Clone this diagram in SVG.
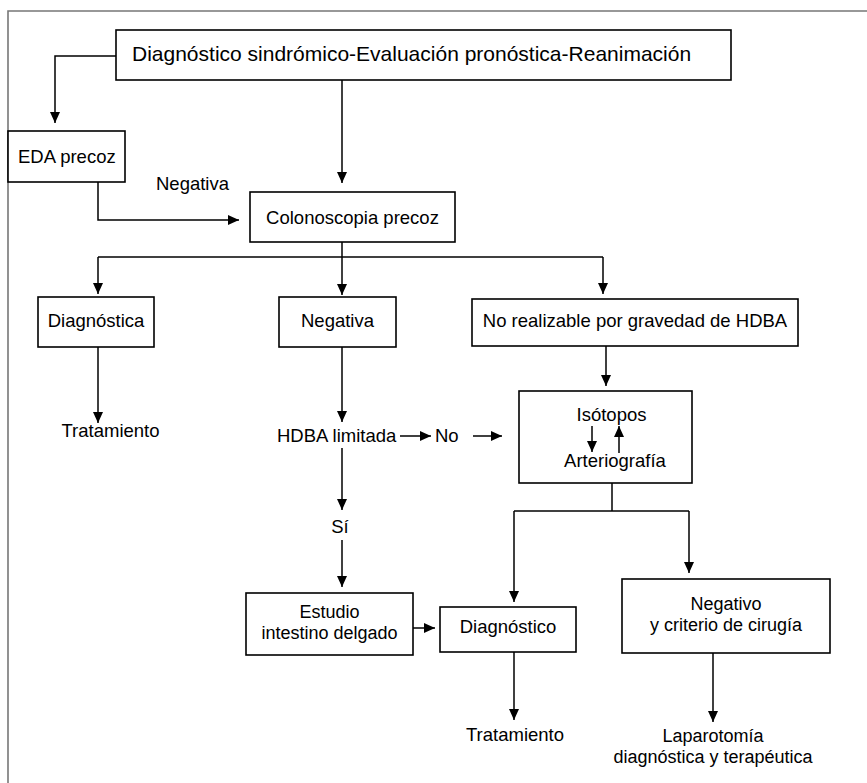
<svg xmlns="http://www.w3.org/2000/svg" width="867" height="783" viewBox="0 0 867 783">
<style>
  .box { fill: #ffffff; stroke: #000000; stroke-width: 1.6; }
  .ln { fill: none; stroke: #000000; stroke-width: 1.5; }
  .t { font-family: "Liberation Sans", Arial, Helvetica, sans-serif; font-size: 18.5px; fill: #000000; }
  .big { font-size: 21px; }
  .sm { font-size: 18px; }
  .c { text-anchor: middle; }
</style>
<defs>
  <marker id="ah" markerUnits="userSpaceOnUse" markerWidth="11" markerHeight="10" refX="11" refY="5" orient="auto">
    <path d="M0,0 L11,5 L0,10 z" fill="#000000"/>
  </marker>
</defs>
<rect x="0" y="0" width="867" height="783" fill="#ffffff"/>
<path d="M8,783 L8,11 L867,11" fill="none" stroke="#777777" stroke-width="1.6"/>

<g id="connectors">
  <path class="ln" d="M116,56 L55,56 L55,123" marker-end="url(#ah)"/>
  <path class="ln" d="M342,80 L342,183" marker-end="url(#ah)"/>
  <path class="ln" d="M98,182 L98,220 L239,220" marker-end="url(#ah)"/>
  <path class="ln" d="M342,242 L342,295" marker-end="url(#ah)"/>
  <path class="ln" d="M98,257 L603,257"/>
  <path class="ln" d="M98,257 L98,294" marker-end="url(#ah)"/>
  <path class="ln" d="M603,257 L603,294" marker-end="url(#ah)"/>
  <path class="ln" d="M98,347 L98,423" marker-end="url(#ah)"/>
  <path class="ln" d="M342,347 L342,422" marker-end="url(#ah)"/>
  <path class="ln" d="M606,346 L606,386" marker-end="url(#ah)"/>
  <path class="ln" d="M400,436 L431,436" marker-end="url(#ah)"/>
  <path class="ln" d="M473,436 L502,436" marker-end="url(#ah)"/>
  <path class="ln" d="M342,448 L342,510" marker-end="url(#ah)"/>
  <path class="ln" d="M342,540 L342,587" marker-end="url(#ah)"/>
  <path class="ln" d="M413,628 L435,628" marker-end="url(#ah)"/>
  <path class="ln" d="M612,483 L612,511"/>
  <path class="ln" d="M514,511 L689,511"/>
  <path class="ln" d="M514,511 L514,602" marker-end="url(#ah)"/>
  <path class="ln" d="M689,511 L689,573" marker-end="url(#ah)"/>
  <path class="ln" d="M514,652 L514,720" marker-end="url(#ah)"/>
  <path class="ln" d="M713,653 L713,722" marker-end="url(#ah)"/>
</g>

<g id="n-top">
  <rect class="box" x="116" y="30" width="615" height="50"/>
  <text class="t big" x="132" y="61">Diagnóstico sindrómico-Evaluación pronóstica-Reanimación</text>
</g>
<g id="n-eda">
  <rect class="box" x="8" y="131" width="117" height="51"/>
  <text class="t" x="18" y="163">EDA precoz</text>
</g>
<g id="l-negativa">
  <text class="t" x="156" y="190">Negativa</text>
</g>
<g id="n-colono">
  <rect class="box" x="250" y="192" width="205" height="50"/>
  <text class="t c" x="352.5" y="224">Colonoscopia precoz</text>
</g>
<g id="n-diagnostica">
  <rect class="box" x="38" y="297" width="116" height="50"/>
  <text class="t c" x="96" y="327">Diagnóstica</text>
</g>
<g id="n-negativa">
  <rect class="box" x="279" y="297" width="117" height="50"/>
  <text class="t c" x="337.5" y="327">Negativa</text>
</g>
<g id="n-norealizable">
  <rect class="box" x="472" y="299" width="326" height="47"/>
  <text class="t c" x="635" y="327">No realizable por gravedad de HDBA</text>
</g>
<g id="l-trat1">
  <text class="t c" x="110.5" y="437">Tratamiento</text>
</g>
<g id="l-hdba">
  <text class="t" x="277" y="442">HDBA limitada</text>
</g>
<g id="l-no">
  <text class="t" x="435" y="442">No</text>
</g>
<g id="n-isotopos">
  <rect class="box" x="519" y="391" width="173" height="92"/>
  <text class="t c" x="611.5" y="421">Isótopos</text>
  <text class="t c" x="615" y="467">Arteriografía</text>
  <path class="ln" d="M592,426 L592,452" marker-end="url(#ah)"/>
  <path class="ln" d="M619,453 L619,426" marker-end="url(#ah)"/>
</g>
<g id="l-si">
  <text class="t c" x="340" y="533">Sí</text>
</g>
<g id="n-estudio">
  <rect class="box" x="246" y="593" width="167" height="62"/>
  <text class="t sm c" x="329.5" y="618">Estudio</text>
  <text class="t sm c" x="329.5" y="638.5">intestino delgado</text>
</g>
<g id="n-diagnostico">
  <rect class="box" x="440" y="607" width="136" height="45"/>
  <text class="t c" x="508" y="633">Diagnóstico</text>
</g>
<g id="n-negativo">
  <rect class="box" x="622" y="579" width="208" height="74"/>
  <text class="t sm c" x="726" y="610">Negativo</text>
  <text class="t sm c" x="726" y="630.5">y criterio de cirugía</text>
</g>
<g id="l-trat2">
  <text class="t c" x="515" y="741">Tratamiento</text>
</g>
<g id="l-laparotomia">
  <text class="t sm c" x="713" y="742">Laparotomía</text>
  <text class="t sm c" x="713" y="762.5">diagnóstica y terapéutica</text>
</g>
</svg>
